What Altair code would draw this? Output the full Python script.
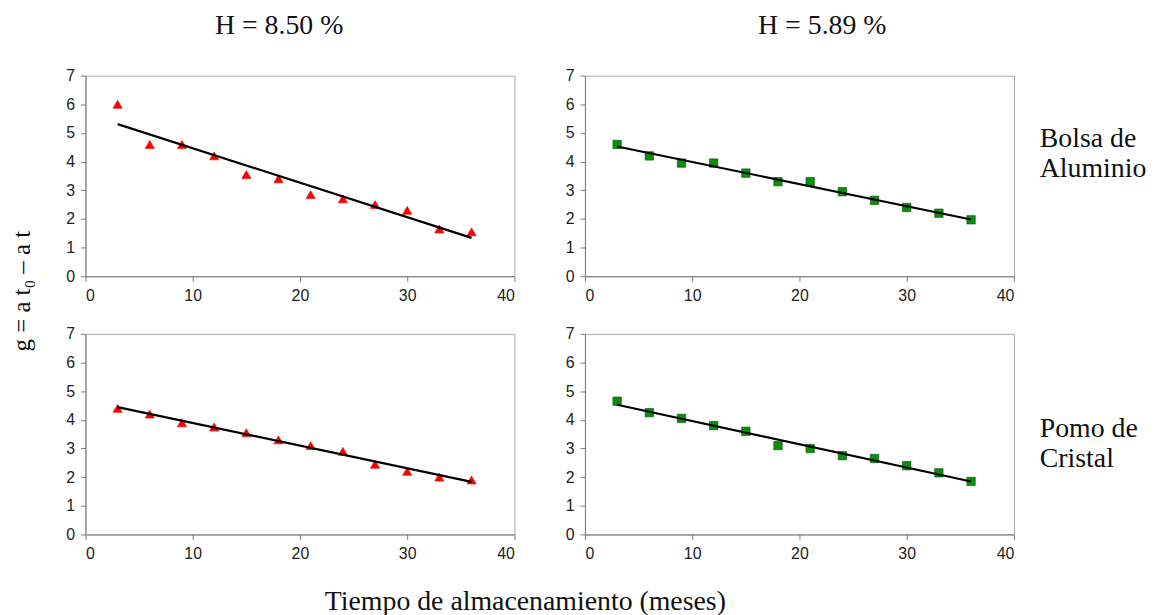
import altair as alt
import pandas as pd

months = [3, 6, 9, 12, 15, 18, 21, 24, 27, 30, 33, 36]
bolsa_850 = [6.0, 4.6, 4.6, 4.2, 3.55, 3.4, 2.85, 2.7, 2.5, 2.3, 1.65, 1.55]
bolsa_589 = [4.6, 4.2, 3.95, 3.95, 3.6, 3.3, 3.3, 2.95, 2.65, 2.4, 2.2, 1.97]
pomo_850 = [4.4, 4.2, 3.9, 3.75, 3.55, 3.3, 3.1, 2.9, 2.45, 2.2, 2.0, 1.9]
pomo_589 = [4.65, 4.25, 4.05, 3.8, 3.6, 3.1, 3.0, 2.75, 2.65, 2.4, 2.15, 1.85]

col_titles = ["H = 8.50 %", "H = 5.89 %"]
row_labels = ["Bolsa de\nAluminio", "Pomo de\nCristal"]
x_title = "Tiempo de almacenamiento (meses)"
y_title = "g = a t\u2080 \u2013 a t"

W, H = 432, 202
SERIF = "Liberation Serif"
RED = "#ff0000"
GREEN = "#0a8f0a"


def text_layer(label, x, y, size, angle=0, align="left", baseline="alphabetic"):
    df = pd.DataFrame({"s": [label]})
    kw = dict(font=SERIF, fontSize=size, color="#111111", align=align,
              baseline=baseline, lineBreak="\n", lineHeight=30)
    if angle:
        kw["angle"] = angle
    return alt.Chart(df).mark_text(**kw).encode(
        text="s:N", x=alt.value(x), y=alt.value(y)
    )


def panel(vals, color, shape, size, extras):
    df = pd.DataFrame({"t": months, "g": vals})
    base = alt.Chart(df)
    x = alt.X("t:Q", scale=alt.Scale(domain=[0, 40], nice=False),
              axis=alt.Axis(values=[0, 10, 20, 30, 40], title=None, labelPadding=6))
    y = alt.Y("g:Q", scale=alt.Scale(domain=[0, 7], nice=False),
              axis=alt.Axis(values=list(range(8)), title=None, labelPadding=6))
    pts = base.mark_point(shape=shape, filled=True, size=size, color=color,
                          opacity=1, stroke="#005500" if color == GREEN else "#dd0000",
                          strokeWidth=0.6).encode(x=x, y=y)
    line = base.transform_regression("t", "g").mark_line(
        color="black", strokeWidth=2.2).encode(x=x, y=y)
    return alt.layer(pts, line, *extras).properties(width=W, height=H)


p1 = panel(bolsa_850, RED, "triangle-up", 85,
           [text_layer(y_title, -64, 217, 25, angle=270, align="center", baseline="middle"),
            text_layer(col_titles[0], 195, -42, 28, align="center")])
p2 = panel(bolsa_589, GREEN, "square", 72,
           [text_layer(row_labels[0], 458, 72, 28),
            text_layer(col_titles[1], 239, -42, 28, align="center")])
p3 = panel(pomo_850, RED, "triangle-up", 85,
           [text_layer(x_title, 443, 278, 28, align="center")])
p4 = panel(pomo_589, GREEN, "square", 72,
           [text_layer(row_labels[1], 458, 104, 28)])

chart = alt.concat(p1, p2, p3, p4, columns=2, spacing=alt.RowColnumber(row=58, column=71),
                   bounds="flush").properties(
    padding={"left": 1, "top": 1, "right": 2, "bottom": 1},
    background="white"
).configure_view(
    stroke="#a8a8a8", strokeWidth=1
).configure_axis(
    domainColor="#7a7a7a", tickColor="#7a7a7a", labelFont="Liberation Sans",
    labelFontSize=16, labelColor="#222222", grid=False, tickSize=5
)

chart.save("out.html", embed_options={"renderer": "svg", "actions": False})
